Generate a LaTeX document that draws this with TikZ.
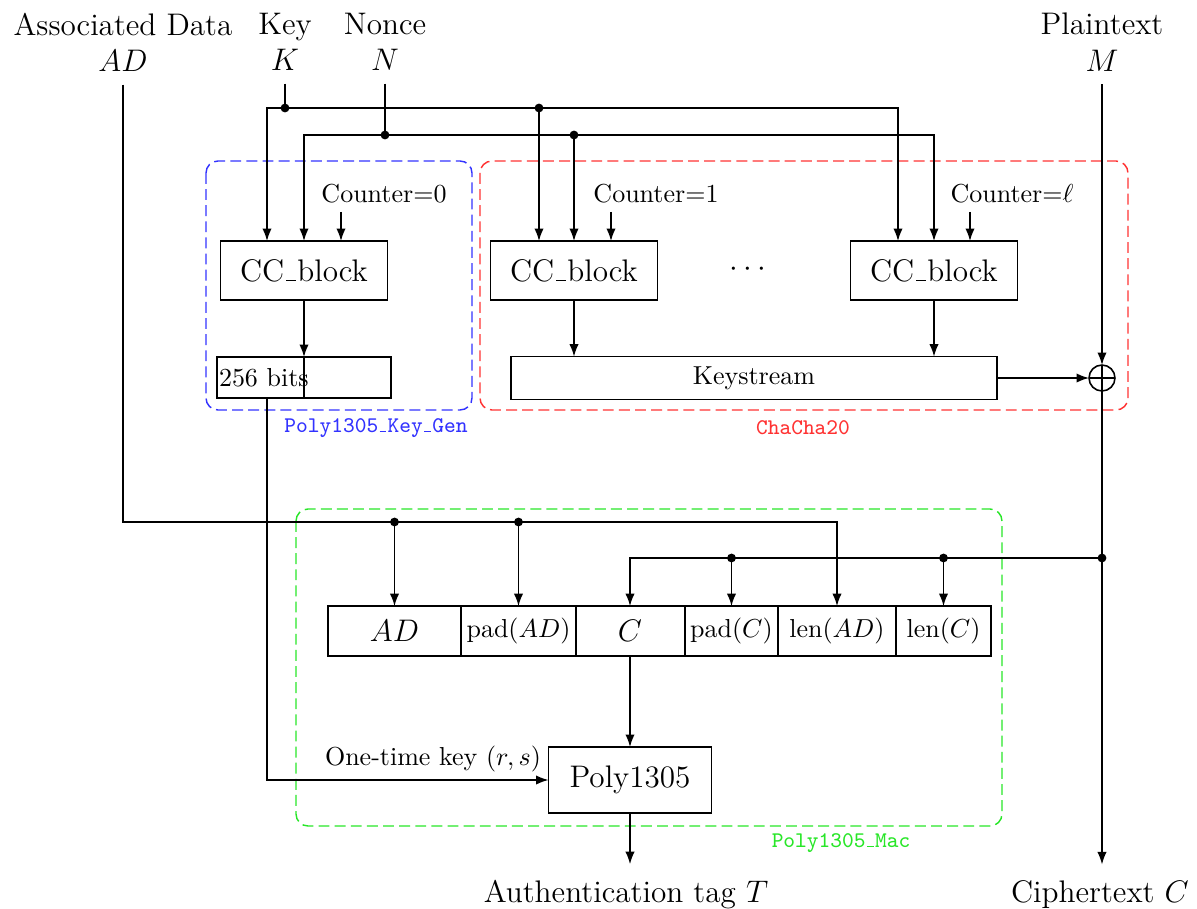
\documentclass[tikz,border=0pt]{standalone}
\usepackage{fontspec}
\usetikzlibrary{arrows.meta,calc}
\newcommand\usc{\leavevmode\kern.06em\vbox{\hrule width.3em}\kern.06em}
\definecolor{regblue}{RGB}{50,50,255}
\definecolor{regred}{RGB}{255,50,50}
\definecolor{reggreen}{RGB}{40,230,40}
\begin{document}
\begin{tikzpicture}[x=0.01352cm,y=-0.01352cm,
  every node/.style={inner sep=0pt,outer sep=0pt},
  box/.style={draw,line width=0.65pt,minimum height=#1},
  box/.default=19.2pt,
  ln/.style={line width=0.55pt},
  arr/.style={ln,-{Latex[length=4.8pt,width=3.6pt]}},
  dotn/.style={circle,fill,minimum size=3.4pt},
  lbl/.style={font=\large,align=center,anchor=north},
  region/.style={line width=0.55pt,dash pattern=on 4.2pt off 2pt,rounded corners=4.6pt},
  rlabel/.style={font=\fontsize{8.6}{10}\selectfont\ttfamily},
  xorn/.style={circle,draw,line width=0.6pt,minimum size=10pt,
    path picture={\draw[line width=0.6pt] (path picture bounding box.north) -- (path picture bounding box.south)
      (path picture bounding box.west) -- (path picture bounding box.east);}}
]
\useasboundingbox (0,0) rectangle (1197,909);

% top labels
\node[lbl] (adl) at (123,13) {Associated Data\\$AD$};
\node[lbl] (kl) at (285,13) {Key\\$K$};
\node[lbl] (nl) at (385,13) {Nonce\\$N$};
\node[lbl] (ml) at (1102,13) {Plaintext\\$M$};

% regions
\draw[region,regblue] (206,161) rectangle (472,410);
\node[rlabel,text=regblue] (rkg) at (376,428) {Poly1305\usc Key\usc Gen};
\draw[region,regred] (480,161) rectangle (1128,410);
\node[rlabel,text=regred] (rcc) at (803,428) {ChaCha20};
\draw[region,reggreen] (296,509) rectangle (1002,826);
\node[rlabel,text=reggreen] (rmac) at (841,843) {Poly1305\usc Mac};

% CC blocks
\node[box=22.7pt,minimum width=64.2pt,font=\large] (cc1) at (304,270.5) {CC\usc block};
\node[box=22.7pt,minimum width=64.2pt,font=\large] (cc2) at (574,270.5) {CC\usc block};
\node[box=22.7pt,minimum width=64.2pt,font=\large] (cc3) at (934,270.5) {CC\usc block};
\node[font=\large] (dots) at (748,270) {$\cdots$};
\coordinate (k1x) at ($(cc1.north)+(-37,0)$);
\coordinate (k2x) at ($(cc2.north)+(-35,0)$);
\coordinate (k3x) at ($(cc3.north)+(-36,0)$);

% counters
\node[anchor=base] (c0) at (384,202) {Counter=0};
\node[anchor=base] (c1) at (656,202) {Counter=1};
\node[anchor=base] (cl) at (1012,202) {Counter=$\ell$};
\draw[arr] ($(cc1.north)+(37,-29)$) -- ($(cc1.north)+(37,0)$);
\draw[arr] ($(cc2.north)+(37,-29)$) -- ($(cc2.north)+(37,0)$);
\draw[arr] ($(cc3.north)+(36,-29)$) -- ($(cc3.north)+(36,0)$);

% 256 bits
\node[box=15.8pt,minimum width=33.5pt,anchor=north east] (bitsl) at (304,357) {};
\node[box=15.8pt,minimum width=33.5pt,anchor=north west] (bitsr) at (304,357) {};
\node[anchor=base west] (bitst) at (219,386) {256 bits};
\draw[arr] (cc1.south) -- (bitsl.north east);

% keystream and xor
\node[box=16.5pt,minimum width=186.9pt] (ks) at (754,378) {Keystream};
\node[xorn] (xo) at (1102,378) {};
\draw[arr] (cc2.south) -- (cc2.south |- ks.north);
\draw[arr] (cc3.south) -- (cc3.south |- ks.north);
\draw[arr] (ks.east) -- (xo.west);

% key and nonce buses
\coordinate (kbus) at (0,108);
\coordinate (nbus) at (0,135);
\node[dotn] (kdot) at (kl.south |- kbus) {};
\node[dotn] (kdot2) at (k2x |- kbus) {};
\node[dotn] (ndot) at (nl.south |- nbus) {};
\node[dotn] (ndot2) at (cc2.north |- nbus) {};
\draw[ln,shorten <=5pt] (kl.south) -- (kdot);
\draw[ln,shorten <=5pt] (nl.south) -- (ndot);
\draw[arr] (kdot) -| (k1x);
\draw[arr] (kdot) -| (k3x);
\draw[arr] (kdot2) -- (k2x);
\draw[arr] (ndot) -| (cc1.north);
\draw[arr] (ndot) -| (cc3.north);
\draw[arr] (ndot2) -- (cc2.north);

% MAC input row
\node[box,minimum width=51.2pt,font=\large] (bad) at (394.5,631) {$AD$};
\node[box,minimum width=44.2pt] (bpad) at (518.5,631) {pad($AD$)};
\node[box,minimum width=41.9pt,font=\large] (bc) at (630,631) {$C$};
\node[box,minimum width=35.8pt] (bpadc) at (731.5,631) {pad($C$)};
\node[box,minimum width=45.4pt] (blenad) at (837,631) {len($AD$)};
\node[box,minimum width=36.5pt] (blenc) at (943.5,631) {len($C$)};

% AD bus
\coordinate (adbus) at (0,522);
\node[dotn] (addot1) at (bad.north |- adbus) {};
\node[dotn] (addot2) at (bpad.north |- adbus) {};
\draw[arr,shorten <=5pt] (adl.south) |- (addot1.center) -| (blenad.north);
\draw[arr] (addot1) -- (bad.north);
\draw[arr] (addot2) -- (bpad.north);

% ciphertext
\node[font=\large,anchor=base] (ctl) at (1100,902) {Ciphertext $C$};
\draw[arr,shorten <=5pt] (ml.south) -- (xo.north);
\draw[arr,shorten >=6pt] (xo.south) -- (ctl.north -| xo.south);
\coordinate (cbus) at (0,558);
\node[dotn] (cdot) at (xo.south |- cbus) {};
\node[dotn] (cdot1) at (bpadc.north |- cbus) {};
\node[dotn] (cdot2) at (blenc.north |- cbus) {};
\draw[arr] (cdot) -| (bc.north);
\draw[arr] (cdot1) -- (bpadc.north);
\draw[arr] (cdot2) -- (blenc.north);

% Poly1305
\node[box=25.4pt,minimum width=62.7pt,font=\large] (poly) at (630,780) {Poly1305};
\node[anchor=base east] (otk) at (541,765) {One-time key $(r,s)$};
\draw[arr] (bc.south) -- (poly.north);
\draw[arr] (k1x |- bitsl.south) |- (poly.west);
\node[font=\large,anchor=base] (atl) at (626,902) {Authentication tag $T$};
\draw[arr,shorten >=6pt] (poly.south) -- (poly.south |- atl.north);
\end{tikzpicture}
\end{document}
